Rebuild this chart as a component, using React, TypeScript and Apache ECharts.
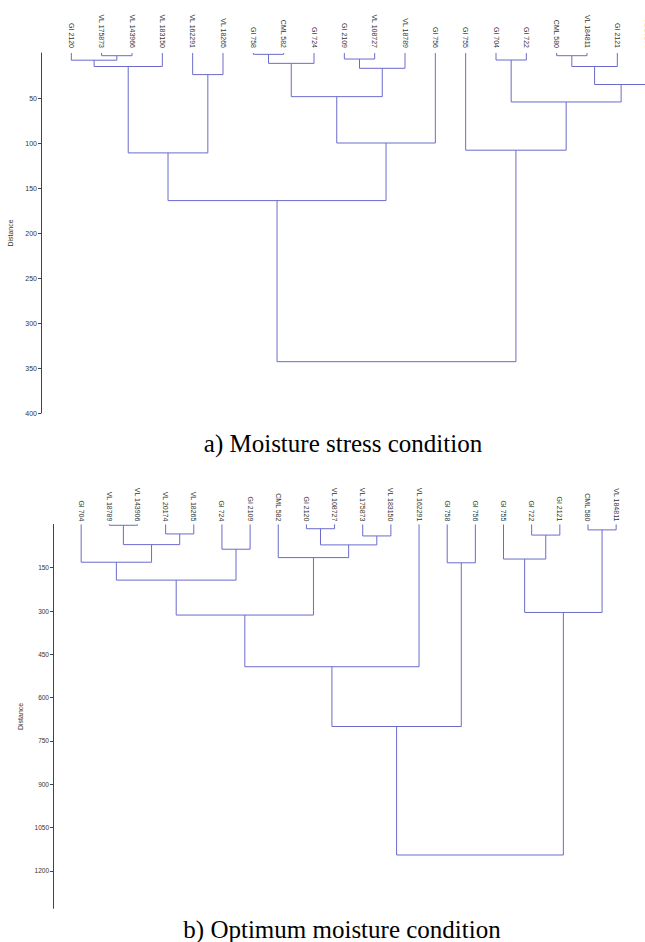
import React, { useEffect, useRef } from "react";
import * as echarts from "echarts";

// ---------- a) Moisture stress condition ----------
const leavesA = [
  "GI 2120", "VL 175873", "VL 143966", "VL 183150", "VL 162291", "VL 18265",
  "GI 758", "CML 582", "GI 724", "GI 2109", "VL 108727", "VL 18789", "GI 756",
  "GI 755", "GI 704", "GI 722", "CML 580", "VL 184811", "GI 2121", "VL 20174",
];
// [left node, right node, merge distance]; nodes 0..19 are leaves, 20+k is merge k
const mergesA: [number, number, number][] = [
  [1, 2, 3],      // 20
  [0, 20, 8],     // 21
  [21, 3, 15],    // 22
  [4, 5, 24],     // 23
  [22, 23, 111],  // 24
  [6, 7, 1.5],    // 25
  [25, 8, 11.5],  // 26
  [9, 10, 6.7],   // 27
  [27, 11, 17],   // 28
  [26, 28, 48.5], // 29
  [29, 12, 100],  // 30
  [24, 30, 164],  // 31
  [14, 15, 7.8],  // 32
  [16, 17, 3],    // 33
  [33, 18, 15],   // 34
  [34, 19, 35],   // 35
  [32, 35, 54.4], // 36
  [13, 36, 108],  // 37
  [31, 37, 343],  // 38
];
const ticksA = [50, 100, 150, 200, 250, 300, 350, 400];

// ---------- b) Optimum moisture condition ----------
const leavesB = [
  "GI 704", "VL 18789", "VL 143906", "VL 20174", "VL 18265", "GI 724", "GI 2109",
  "CML 582", "GI 2120", "VL 108727", "VL 175873", "VL 183150", "VL 162291",
  "GI 758", "GI 756", "GI 755", "GI 722", "GI 2121", "CML 580", "VL 184811",
];
const mergesB: [number, number, number][] = [
  [1, 2, 3],       // 20
  [3, 4, 33],      // 21
  [20, 21, 70],    // 22
  [0, 22, 131],    // 23
  [5, 6, 86],      // 24
  [23, 24, 193],   // 25
  [8, 9, 15],      // 26
  [10, 11, 40],    // 27
  [26, 27, 71],    // 28
  [7, 28, 115],    // 29
  [25, 29, 314],   // 30
  [30, 12, 493],   // 31
  [13, 14, 133],   // 32
  [31, 32, 700],   // 33
  [16, 17, 37],    // 34
  [15, 34, 120],   // 35
  [18, 19, 19],    // 36
  [35, 36, 305],   // 37
  [33, 37, 1145],  // 38
];
const ticksB = [150, 300, 450, 600, 750, 900, 1050, 1200];

const captionA = "a) Moisture stress condition";
const captionB = "b) Optimum moisture condition";

function buildLinks(leafCount: number, merges: [number, number, number][]) {
  const pos: number[] = [];
  const hgt: number[] = [];
  for (let i = 0; i < leafCount; i++) {
    pos.push(i);
    hgt.push(0);
  }
  const links: { coords: number[][] }[] = [];
  merges.forEach(([l, r, h]) => {
    links.push({
      coords: [
        [pos[l], hgt[l]],
        [pos[l], h],
        [pos[r], h],
        [pos[r], hgt[r]],
      ],
    });
    pos.push((pos[l] + pos[r]) / 2);
    hgt.push(h);
  });
  return links;
}

const LINE = "#6b6bcc";
const AXIS = "#444";
const SANS = "'Liberation Sans', Arial, sans-serif";

export default function App() {
  const ref = useRef<HTMLDivElement>(null);
  useEffect(() => {
    if (!ref.current) return;
    const chart = echarts.init(ref.current, undefined, { renderer: "svg" });
    const mkX = (gridIndex: number, leaves: string[], margin: number) => ({
      type: "value",
      gridIndex,
      position: "top",
      min: -1,
      max: 20,
      interval: 1,
      axisLine: { show: false, onZero: false },
      axisTick: { show: false },
      splitLine: { show: false },
      axisLabel: {
        rotate: 90,
        margin,
        fontSize: 7,
        fontFamily: SANS,
        color: "#333",
        formatter: (v: number) => leaves[Math.round(v)] ?? "",
      },
    });
    const mkY = (gridIndex: number, max: number, ticks: number[], nameGap: number, fs: number) => ({
      type: "value",
      gridIndex,
      inverse: true,
      min: 0,
      max,
      name: "Distance",
      nameLocation: "middle",
      nameRotate: 90,
      nameGap,
      nameTextStyle: { fontSize: 7, fontFamily: SANS, color: "#333" },
      axisLine: { show: true, onZero: false, lineStyle: { color: AXIS, width: 1 } },
      axisTick: { show: true, length: 3, customValues: ticks, lineStyle: { color: AXIS } },
      axisLabel: {
        customValues: ticks,
        fontSize: fs,
        fontFamily: SANS,
        color: "#333",
        margin: 4,
        formatter: (v: number) => String(v),
      },
      splitLine: { show: false },
    });
    chart.setOption({
      animation: false,
      backgroundColor: "#ffffff",
      grid: [
        { left: 41, top: 53, width: 637, height: 360, outerBoundsMode: "none", containLabel: false },
        { left: 53, top: 524.4, width: 591.3, height: 384, outerBoundsMode: "none", containLabel: false },
      ],
      xAxis: [mkX(0, leavesA, 5), mkX(1, leavesB, 3)],
      yAxis: [mkY(0, 400, ticksA, 22, 7), mkY(1, 1330, ticksB, 19, 6.5)],
      series: [
        {
          type: "lines",
          coordinateSystem: "cartesian2d",
          xAxisIndex: 0,
          yAxisIndex: 0,
          polyline: true,
          silent: true,
          lineStyle: { color: LINE, width: 1, opacity: 1 },
          data: buildLinks(leavesA.length, mergesA),
        },
        {
          type: "lines",
          coordinateSystem: "cartesian2d",
          xAxisIndex: 1,
          yAxisIndex: 1,
          polyline: true,
          silent: true,
          lineStyle: { color: LINE, width: 1, opacity: 1 },
          data: buildLinks(leavesB.length, mergesB),
        },
      ],
      graphic: [
        {
          type: "text",
          x: 343,
          y: 443,
          style: {
            text: captionA,
            font: "25px 'Liberation Serif', 'Times New Roman', serif",
            fill: "#000",
            textAlign: "center",
            textVerticalAlign: "middle",
          },
        },
        {
          type: "text",
          x: 342,
          y: 929,
          style: {
            text: captionB,
            font: "25px 'Liberation Serif', 'Times New Roman', serif",
            fill: "#000",
            textAlign: "center",
            textVerticalAlign: "middle",
          },
        },
      ],
    });
    return () => chart.dispose();
  }, []);
  return (
    <div style={{ position: "absolute", left: 0, top: 0, width: 645, height: 942, overflow: "hidden", background: "#fff" }}>
      <div ref={ref} style={{ width: 700, height: 942 }} />
    </div>
  );
}
